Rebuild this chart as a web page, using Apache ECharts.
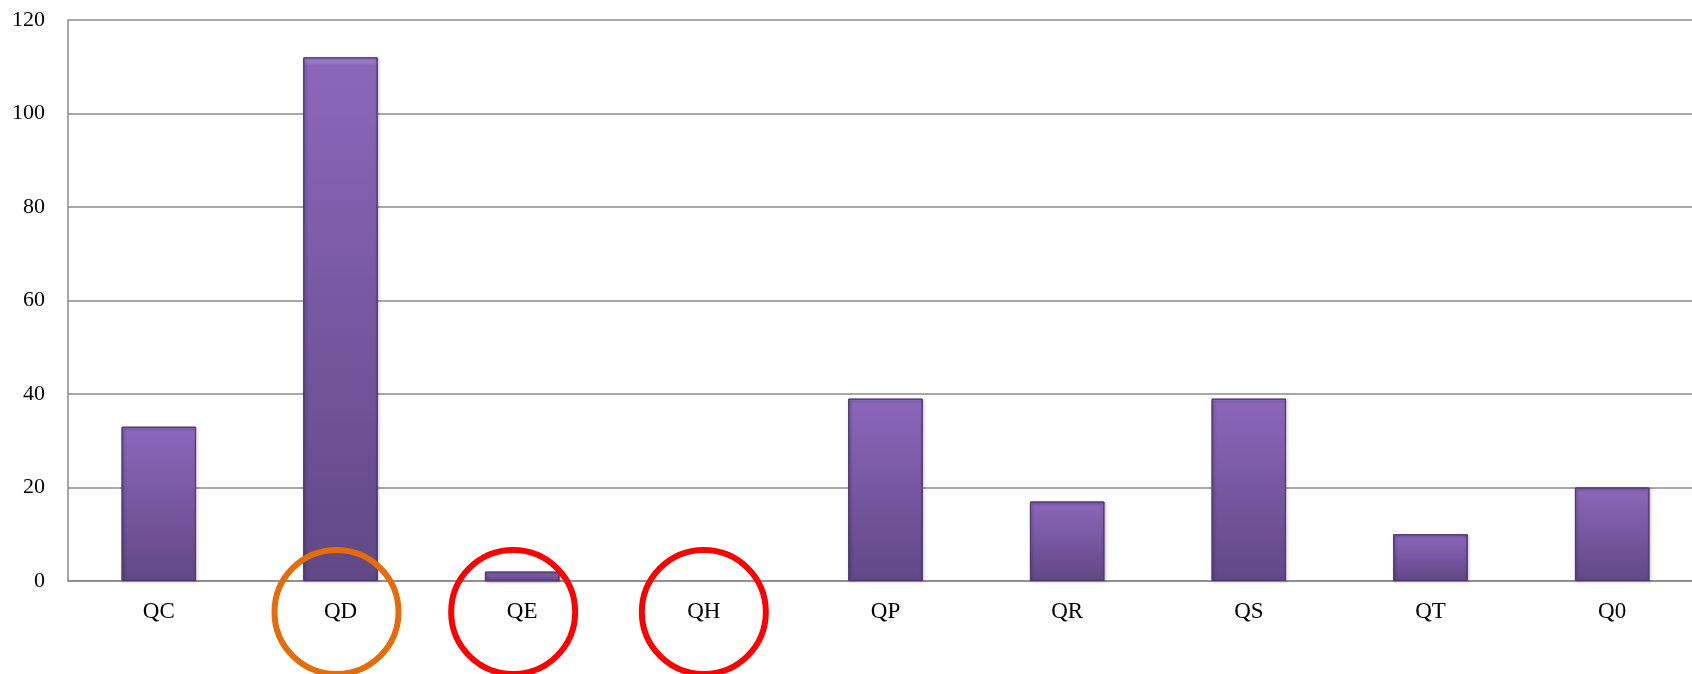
<!DOCTYPE html>
<html>
<head>
<meta charset="utf-8">
<script src="https://cdn.jsdelivr.net/npm/echarts@6/dist/echarts.min.js"></script>
<style>
  html, body { margin: 0; padding: 0; background: #fff; }
  #chart { width: 1692px; height: 674px; }
</style>
</head>
<body>
<div id="chart"></div>
<script>
// Chart data
const categories = ['QC', 'QD', 'QE', 'QH', 'QP', 'QR', 'QS', 'QT', 'Q0'];
const values = [33, 112, 2, 0, 39, 17, 39, 10, 20];
const yTicks = [0, 20, 40, 60, 80, 100, 120];

// Annotation rings around some of the category labels (hand drawn, slightly off-centre)
const ringCats = ['QD', 'QE', 'QH'];
const ringColors = ['#e46c0a', '#ff0000', '#ff0000'];
const ringShift = [-4, -9, 0];

document.addEventListener('DOMContentLoaded', function() {
    const chart = echarts.init(document.getElementById('chart'));

    // zero bars get no outline, like the original
    const barData = values.map(v => v === 0
        ? { value: v, itemStyle: { borderWidth: 0, shadowBlur: 0, opacity: 0 } }
        : v);

    const option = {
        animation: false,
        grid: { left: 68, right: -11, top: 20, bottom: 93, outerBoundsMode: 'none' },
        xAxis: {
            type: 'category',
            data: categories,
            axisTick: { show: false },
            axisLine: { lineStyle: { color: '#8a8a8a', width: 1.5 } },
            axisLabel: {
                color: '#000',
                fontFamily: 'Liberation Serif',
                fontSize: 23,
                margin: 19
            }
        },
        yAxis: {
            type: 'value',
            min: yTicks[0],
            max: yTicks[yTicks.length - 1],
            interval: 20,
            axisLine: { show: true, lineStyle: { color: '#8a8a8a', width: 1.5 } },
            axisTick: { show: false },
            splitLine: { lineStyle: { color: '#8a8a8a', width: 1.5 } },
            axisLabel: {
                color: '#000',
                fontFamily: 'Liberation Serif',
                fontSize: 22,
                margin: 23
            }
        },
        series: [{
            type: 'bar',
            data: barData,
            barWidth: '41%',
            itemStyle: {
                color: {
                    type: 'linear', x: 0, y: 0, x2: 0, y2: 1,
                    colorStops: [
                        { offset: 0, color: '#b194e2' },
                        { offset: 0.015, color: '#8c66bb' },
                        { offset: 1, color: '#614885' }
                    ]
                },
                borderColor: '#4e3a6e',
                borderWidth: 1,
                shadowColor: 'rgba(0,0,0,0.35)',
                shadowBlur: 3,
                shadowOffsetX: 1,
                shadowOffsetY: 1
            }
        }]
    };

    chart.setOption(option);

    // Place the rings on the category label positions
    const rings = ringCats.map((cat, i) => {
        const p = chart.convertToPixel({ xAxisIndex: 0, yAxisIndex: 0 }, [cat, 0]);
        return {
            type: 'circle',
            shape: { cx: p[0] + ringShift[i], cy: p[1] + 31, r: 62 },
            style: { fill: null, stroke: ringColors[i], lineWidth: 6 },
            z: 10
        };
    });
    chart.setOption({ graphic: rings });
});
</script>
</body>
</html>
